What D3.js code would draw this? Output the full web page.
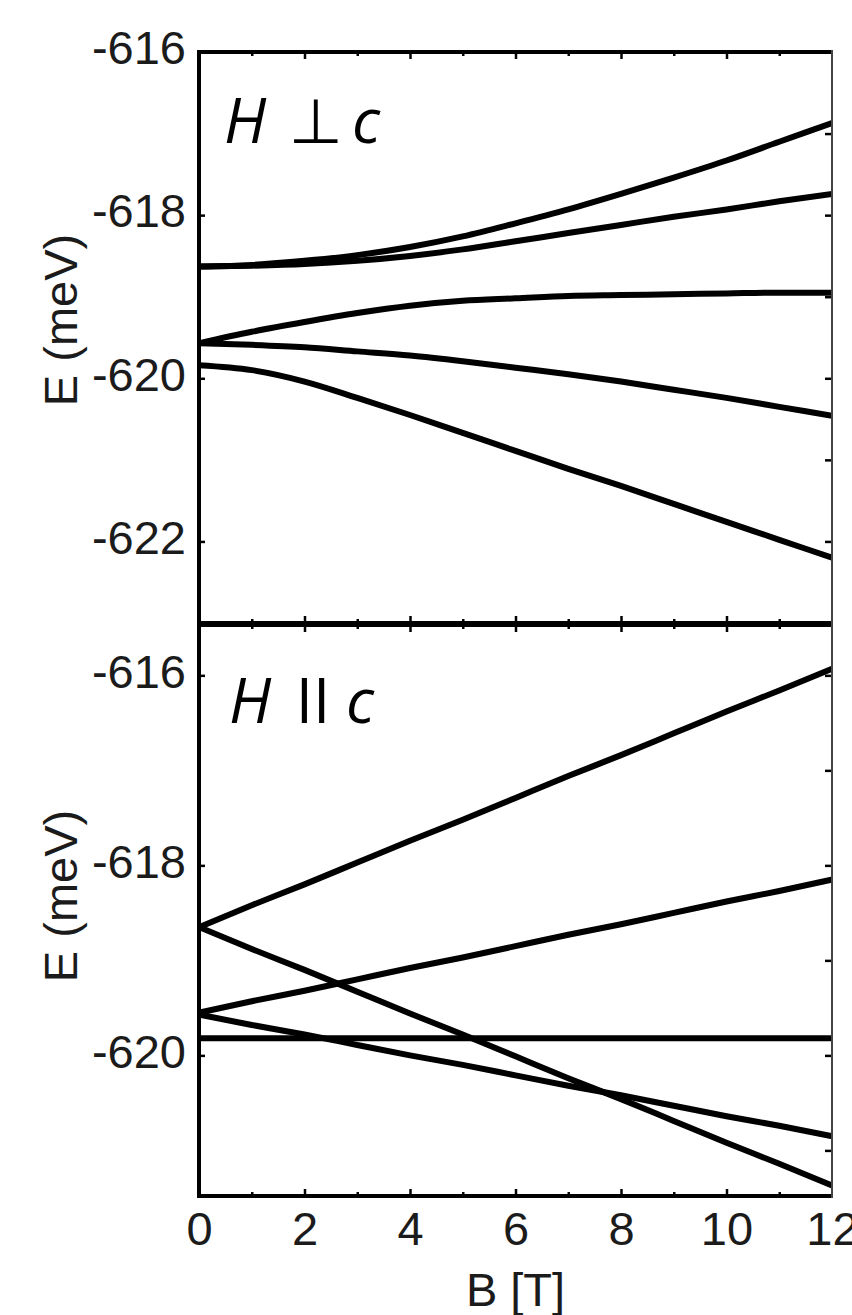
<!DOCTYPE html>
<html>
<head>
<meta charset="utf-8">
<script src="https://cdn.jsdelivr.net/npm/d3@7"></script>
<style>
  html, body { margin: 0; padding: 0; background: #fff; }
  svg { display: block; }
</style>
</head>
<body>
<svg id="chart" width="852" height="1315"></svg>
<script>
// Magnetic field values (T) at which the levels are tabulated
const fieldT = [0, 1, 2, 3, 4, 5, 6, 7, 8, 9, 10, 11, 12];

// Energy levels (meV), field perpendicular to c
const perpLevel1 = [-618.63, -618.61, -618.56, -618.49, -618.39, -618.26, -618.10, -617.93, -617.74, -617.54, -617.33, -617.10, -616.87];
const perpLevel2 = [-618.63, -618.62, -618.60, -618.56, -618.50, -618.42, -618.32, -618.22, -618.12, -618.02, -617.93, -617.83, -617.74];
const perpLevel3 = [-619.57, -619.43, -619.31, -619.20, -619.11, -619.05, -619.02, -618.99, -618.98, -618.97, -618.96, -618.95, -618.95];
const perpLevel4 = [-619.57, -619.59, -619.62, -619.67, -619.72, -619.79, -619.87, -619.95, -620.04, -620.14, -620.24, -620.35, -620.46];
const perpLevel5 = [-619.84, -619.90, -620.04, -620.24, -620.45, -620.67, -620.89, -621.11, -621.32, -621.54, -621.76, -621.98, -622.20];

// Energy levels (meV), field parallel to c
const parLevel1 = [-618.65, -618.42, -618.20, -617.97, -617.74, -617.52, -617.29, -617.06, -616.84, -616.61, -616.38, -616.16, -615.93];
const parLevel2 = [-618.65, -618.88, -619.10, -619.33, -619.56, -619.78, -620.01, -620.24, -620.46, -620.69, -620.92, -621.14, -621.37];
const parLevel3 = [-619.55, -619.43, -619.32, -619.20, -619.08, -618.97, -618.85, -618.73, -618.62, -618.50, -618.38, -618.27, -618.15];
const parLevel4 = [-619.82, -619.82, -619.82, -619.82, -619.82, -619.82, -619.82, -619.82, -619.82, -619.82, -619.82, -619.82, -619.82];
const parLevel5 = [-619.57, -619.68, -619.78, -619.89, -620.00, -620.10, -620.21, -620.32, -620.42, -620.53, -620.64, -620.74, -620.85];

// Tick values
const fieldTicks = [0, 2, 4, 6, 8, 10, 12];
const fieldMinorTicks = [1, 3, 5, 7, 9, 11];
const perpTicks = [-622, -620, -618, -616];
const perpRightTicks = [-622, -621, -620, -619, -618, -617, -616];
const parTicks = [-620, -618, -616];
const parRightTicks = [-621, -620, -619, -618, -617, -616];

const perpLevels = [perpLevel1, perpLevel2, perpLevel3, perpLevel4, perpLevel5];
const parLevels = [parLevel1, parLevel2, parLevel3, parLevel4, parLevel5];

const svg = d3.select("#chart");
const left = 199, right = 832;
const x = d3.scaleLinear().domain([0, 12]).range([left, right]);

const panels = [
  { id: "perp", levels: perpLevels, ticks: perpTicks, rightTicks: perpRightTicks,
    y: d3.scaleLinear().domain([-623, -616]).range([623, 52]), titleY: 320 },
  { id: "par", levels: parLevels, ticks: parTicks, rightTicks: parRightTicks,
    y: d3.scaleLinear().domain([-621.48, -615.47]).range([1196, 625]), titleY: 896 }
];

const tickFont = "'Liberation Sans', Arial, sans-serif";

panels.forEach(p => {
  const [yBottom, yTop] = p.y.range();
  const g = svg.append("g");

  g.append("clipPath").attr("id", "clip-" + p.id)
    .append("rect").attr("x", left).attr("y", yTop).attr("width", right - left).attr("height", yBottom - yTop);

  // level curves
  const line = d3.line()
    .x((d, i) => x(fieldT[i]))
    .y(d => p.y(d))
    .curve(d3.curveMonotoneX);
  g.append("g").attr("clip-path", `url(#clip-${p.id})`)
    .selectAll("path").data(p.levels).join("path")
    .attr("d", line)
    .attr("fill", "none")
    .attr("stroke", "#000")
    .attr("stroke-width", 6);

  // left axis: labelled ticks pointing inward
  const yAxis = d3.axisLeft(p.y).tickValues(p.ticks).tickSizeInner(-6).tickSizeOuter(0)
    .tickPadding(13).tickFormat(d => String(d));
  const ya = g.append("g").attr("transform", `translate(${left},0)`).call(yAxis);
  ya.select(".domain").remove();
  ya.selectAll("line").attr("stroke", "#000").attr("stroke-width", 2.5);
  ya.selectAll("text").attr("dy", null).attr("dy", "0.25em")
    .attr("font-family", tickFont).attr("font-size", 47).attr("fill", "#1b1b1b");

  // right axis: unlabelled ticks at every meV
  const yRight = d3.axisRight(p.y).tickValues(p.rightTicks).tickSizeInner(-7).tickSizeOuter(0).tickFormat("");
  const yr = g.append("g").attr("transform", `translate(${right},0)`).call(yRight);
  yr.select(".domain").remove();
  yr.selectAll("line").attr("stroke", "#000").attr("stroke-width", 2.5);

  // top and bottom ticks of each panel, pointing inward
  [[d3.axisTop, yTop, 1], [d3.axisBottom, yBottom, -1]].forEach(([axisFn, yPos, dir]) => {
    const major = axisFn(x).tickValues(fieldTicks.slice(1, -1)).tickSizeInner(-7).tickSizeOuter(0).tickFormat("");
    const minor = axisFn(x).tickValues(fieldMinorTicks).tickSizeInner(-4).tickSizeOuter(0).tickFormat("");
    [major, minor].forEach(ax => {
      const a = g.append("g").attr("transform", `translate(0,${yPos})`).call(ax);
      a.select(".domain").remove();
      a.selectAll("line").attr("stroke", "#000").attr("stroke-width", 2.5);
    });
  });

  // axis title
  svg.append("text")
    .attr("transform", `translate(77,${p.titleY}) rotate(-90)`)
    .attr("text-anchor", "middle")
    .attr("font-family", tickFont).attr("font-size", 47).attr("fill", "#1b1b1b")
    .text("E (meV)");
});

// bottom field axis labels
const xAxis = d3.axisBottom(x).tickValues(fieldTicks).tickSize(0).tickPadding(16).tickFormat(d => String(d));
const xa = svg.append("g").attr("transform", `translate(0,1196)`).call(xAxis);
xa.select(".domain").remove();
xa.selectAll("text").attr("dy", "0.71em")
  .attr("font-family", tickFont).attr("font-size", 47).attr("fill", "#1b1b1b");

svg.append("text")
  .attr("x", (left + right) / 2).attr("y", 1306)
  .attr("text-anchor", "middle")
  .attr("font-family", tickFont).attr("font-size", 47).attr("fill", "#1b1b1b")
  .text("B [T]");

// frames
const frame = svg.append("g").attr("stroke", "#000").attr("fill", "none");
frame.append("line").attr("x1", left).attr("x2", left).attr("y1", 50).attr("y2", 1198).attr("stroke-width", 4);
frame.append("line").attr("x1", left).attr("x2", right + 1).attr("y1", 52).attr("y2", 52).attr("stroke-width", 4);
frame.append("line").attr("x1", left).attr("x2", right + 1).attr("y1", 624).attr("y2", 624).attr("stroke-width", 6);
frame.append("line").attr("x1", left).attr("x2", right + 1).attr("y1", 1196).attr("y2", 1196).attr("stroke-width", 4);
frame.append("line").attr("x1", right).attr("x2", right).attr("y1", 50).attr("y2", 1198)
  .attr("stroke", "#444").attr("stroke-width", 2);

// panel labels
const labelFont = "'Open Sans', 'Noto Sans', sans-serif";
function panelLabel(yBase, xH, sym, xSym, symFont, xC) {
  const t = svg.append("g").attr("font-size", 62).attr("fill", "#000");
  t.append("text").attr("x", xH).attr("y", yBase).attr("font-family", labelFont).attr("font-style", "italic").text("H");
  t.append("text").attr("x", xSym).attr("y", yBase).attr("font-family", symFont).attr("text-anchor", "middle").text(sym);
  t.append("text").attr("x", xC).attr("y", yBase).attr("font-family", labelFont).attr("font-style", "italic").text("c");
}
panelLabel(143, 224, "\u22A5", 316, "'DejaVu Sans', sans-serif", 352);
panelLabel(723, 229, "II", 313, labelFont, 346);
</script>
</body>
</html>
